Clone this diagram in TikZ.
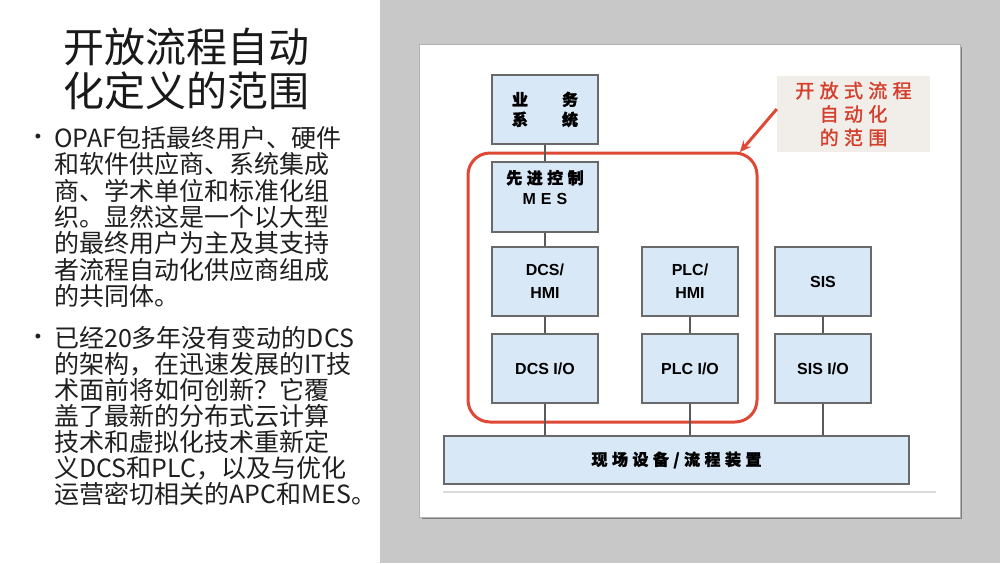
\documentclass[tikz,border=0pt]{standalone}
\usepackage{fontspec}
\setmainfont{Liberation Sans}
\newfontfamily\cjk{Noto Sans CJK SC}
\newfontfamily\cjkb[FakeBold=1.5]{Noto Sans CJK SC}
\newfontfamily\cjkbs[FakeBold=1.5,LetterSpace=28]{Noto Sans CJK SC}
\usetikzlibrary{arrows.meta}
\definecolor{bggray}{RGB}{200,200,200}
\definecolor{boxfill}{RGB}{217,232,246}
\definecolor{boxdraw}{RGB}{105,105,105}
\definecolor{redc}{RGB}{222,72,52}
\definecolor{textred}{RGB}{214,62,44}
\definecolor{callfill}{RGB}{241,237,233}
\definecolor{conngray}{RGB}{90,90,90}
\tikzset{
  box/.style={draw=boxdraw, line width=1.3pt, fill=boxfill, inner sep=0pt, align=center,
    font=\bfseries\fontsize{16}{23}\selectfont},
  conn/.style={draw=conngray, line width=1.2pt},
  lefttext/.style={anchor=base west, inner sep=0pt, font=\cjk\fontsize{25}{26}\selectfont, text=black!88},
  bul/.style={inner sep=0pt, font=\fontsize{18}{20}\selectfont, text=black!88}
}
\begin{document}
\begin{tikzpicture}[x=1pt,y=-1pt]
\useasboundingbox (0,0) rectangle (1000,563);
\fill[white] (0,0) rectangle (380,563);
\fill[bggray] (380,0) rectangle (1000,563);
% figure panel
\fill[black!50] (422,47) rectangle (962,519);
\fill[white, draw=black!30, line width=0.6pt] (419,44) rectangle (960,517);

% title
\node[inner sep=0pt, align=center, font=\cjk\fontsize{41}{44}\selectfont, text=black!90] (title) at (186,69) {开放流程自动\\化定义的范围};

% bullet 1
\node[bul] (dot1) at (38,138) {•};
\node[lefttext] (a1) at (54,147.5) {OPAF包括最终用户、硬件};
\node[lefttext] (a2) at (54,173.8) {和软件供应商、系统集成};
\node[lefttext] (a3) at (54,200.1) {商、学术单位和标准化组};
\node[lefttext] (a4) at (54,226.4) {织。显然这是一个以大型};
\node[lefttext] (a5) at (54,252.7) {的最终用户为主及其支持};
\node[lefttext] (a6) at (54,279.0) {者流程自动化供应商组成};
\node[lefttext] (a7) at (54,305.3) {的共同体。};

% bullet 2
\node[bul] (dot2) at (38,338) {•};
\node[lefttext] (c1) at (54,347.5) {已经20多年没有变动的DCS};
\node[lefttext] (c2) at (54,373.5) {的架构，在迅速发展的IT技};
\node[lefttext] (c3) at (54,399.5) {术面前将如何创新？它覆};
\node[lefttext] (c4) at (54,425.5) {盖了最新的分布式云计算};
\node[lefttext] (c5) at (54,451.5) {技术和虚拟化技术重新定};
\node[lefttext] (c6) at (54,477.5) {义DCS和PLC，以及与优化};
\node[lefttext] (c7) at (54,503.5) {运营密切相关的APC和MES。};

% scope frame
\node[draw=redc, line width=3pt, rounded corners=22pt, minimum width=289pt, minimum height=269pt, inner sep=0pt] (scopebox) at (612.5,287.5) {};

% boxes
\node[box, minimum width=106pt, minimum height=69pt] (biz) at (545,109.5) {\cjkb 业\hspace{34pt}务\\[-3pt]\cjkb 系\hspace{34pt}统};
\node[box, minimum width=106pt, minimum height=70pt] (mes) at (545,197) {};
\node[inner sep=0pt, align=center, font=\bfseries\fontsize{16}{21}\selectfont] (mestxt) at (545,187.5) {{\cjkbs 先进控制}\\M\hspace{5pt}E\hspace{5pt}S};
\node[box, minimum width=106pt, minimum height=69pt] (dcshmi) at (545,281.5) {DCS/\\HMI};
\node[box, minimum width=96pt, minimum height=69pt] (plchmi) at (690,281.5) {PLC/\\HMI};
\node[box, minimum width=96pt, minimum height=69pt] (sis) at (823,281.5) {SIS};
\node[box, minimum width=106pt, minimum height=69pt] (dcsio) at (545,368.5) {DCS I/O};
\node[box, minimum width=96pt, minimum height=69pt] (plcio) at (690,368.5) {PLC I/O};
\node[box, minimum width=96pt, minimum height=69pt] (sisio) at (823,368.5) {SIS I/O};
\node[box, minimum width=465pt, minimum height=48pt] (field) at (676.5,460) {\cjkbs 现场设备/流程装置};

% connectors
\draw[conn] (biz) -- (mes);
\draw[conn] (mes) -- (dcshmi);
\draw[conn] (dcshmi) -- (dcsio);
\draw[conn] (plchmi) -- (plcio);
\draw[conn] (sis) -- (sisio);
\draw[conn] (dcsio) -- (dcsio |- field.north);
\draw[conn] (plcio) -- (plcio |- field.north);
\draw[conn] (sisio) -- (sisio |- field.north);

% rule under field bar
\draw[black!14, line width=2pt] (field.south west) ++(0,7) coordinate (rulestart) -- ++(493,0) coordinate (ruleend);

% callout
\node[fill=callfill, minimum width=153pt, minimum height=76pt, inner sep=0pt, align=center,
  text=textred, font=\cjkbs\fontsize{19}{23.5}\selectfont] (callout) at (853.5,114) {开放式流程\\自动化\\的范围};
\coordinate (tip) at (740,152);
\draw[redc, line width=3pt, -{Stealth[length=11pt,width=10pt]}] ([yshift=5pt]callout.west) -- (tip);
\end{tikzpicture}
\end{document}
